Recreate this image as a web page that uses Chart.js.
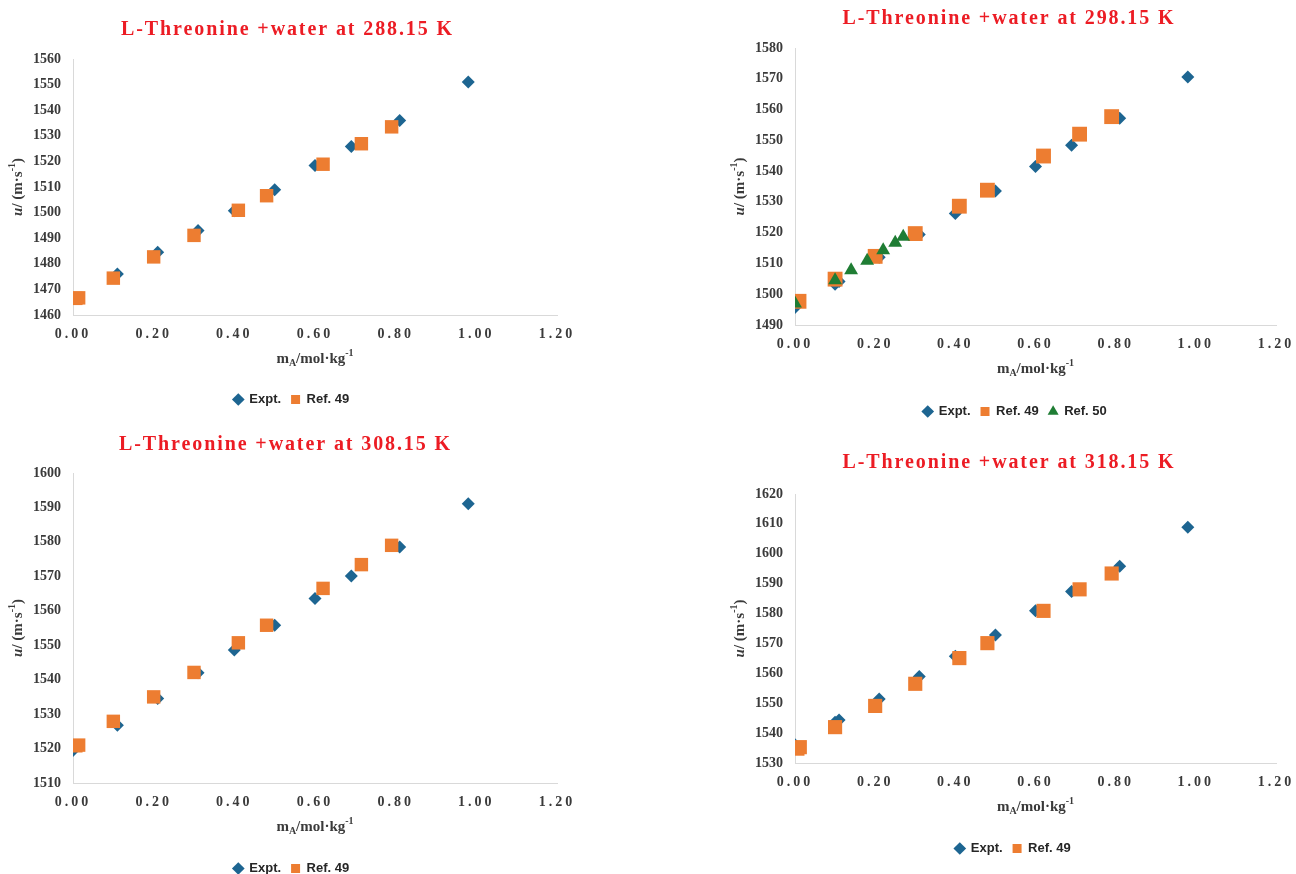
<!DOCTYPE html>
<html>
<head>
<meta charset="utf-8">
<script src="https://cdn.jsdelivr.net/npm/chart.js@4.4.1/dist/chart.umd.min.js"></script>
<style>
html, body { margin: 0; padding: 0; background: #fff; overflow: hidden; }
body { width: 1296px; height: 874px; position: relative; }
canvas { position: absolute; }
</style>
</head>
<body>
<canvas id="graficaUno" width="582" height="420" style="left:0px;top:0px"></canvas>
<canvas id="graficaDos" width="690" height="430" style="left:664px;top:0px"></canvas>
<canvas id="graficaTres" width="582" height="470" style="left:0px;top:420px"></canvas>
<canvas id="graficaCuatro" width="690" height="440" style="left:664px;top:430px"></canvas>
<script>
// titulos de cada grafica
const titulos = [
    'L-Threonine +water at 288.15 K',
    'L-Threonine +water at 298.15 K',
    'L-Threonine +water at 308.15 K',
    'L-Threonine +water at 318.15 K'
];
const leyendas = ['Expt.', 'Ref. 49', 'Ref. 50'];

// eje x comun (mol/kg)
const xTicks = [0.00, 0.20, 0.40, 0.60, 0.80, 1.00, 1.20];

// 288.15 K
const molExpt288 = [0.00, 0.11, 0.21, 0.31, 0.40, 0.50, 0.60, 0.69, 0.81, 0.98];
const uExpt288 = [1466.4, 1476.0, 1484.5, 1493.0, 1500.7, 1508.9, 1518.4, 1525.8, 1536.0, 1551.0];
const molRef49_288 = [0.007, 0.014, 0.10, 0.20, 0.30, 0.41, 0.48, 0.62, 0.715, 0.79];
const uRef49_288 = [1466.5, 1466.7, 1474.4, 1482.7, 1491.1, 1500.9, 1506.6, 1518.9, 1526.9, 1533.5];
const yRango288 = [1460, 1560];

// 298.15 K
const molExpt298 = [0.00, 0.10, 0.11, 0.21, 0.31, 0.40, 0.50, 0.60, 0.69, 0.81, 0.98];
const uExpt298 = [1495.7, 1503.2, 1504.1, 1512.0, 1519.4, 1526.2, 1533.5, 1541.5, 1548.4, 1557.2, 1570.6];
const molRef49_298 = [0.01, 0.10, 0.20, 0.30, 0.41, 0.48, 0.62, 0.71, 0.79];
const uRef49_298 = [1497.7, 1504.9, 1512.3, 1519.7, 1528.6, 1533.8, 1544.9, 1552.0, 1557.7];
const molRef50_298 = [0.00, 0.10, 0.14, 0.18, 0.22, 0.25, 0.27];
const uRef50_298 = [1497.0, 1504.5, 1507.8, 1510.9, 1514.3, 1516.7, 1518.7];
const yRango298 = [1490, 1580];

// 308.15 K
const molExpt308 = [0.00, 0.11, 0.21, 0.31, 0.40, 0.50, 0.60, 0.69, 0.81, 0.98];
const uExpt308 = [1519.4, 1526.8, 1534.5, 1542.0, 1548.6, 1555.8, 1563.6, 1570.1, 1578.5, 1591.1];
const molRef49_308 = [0.007, 0.014, 0.10, 0.20, 0.30, 0.41, 0.48, 0.62, 0.715, 0.79];
const uRef49_308 = [1520.8, 1521.0, 1527.9, 1535.0, 1542.1, 1550.7, 1555.8, 1566.5, 1573.4, 1579.0];
const yRango308 = [1510, 1600];

// 318.15 K
const molExpt318 = [0.00, 0.10, 0.11, 0.21, 0.31, 0.40, 0.50, 0.60, 0.69, 0.81, 0.98];
const uExpt318 = [1536.1, 1543.6, 1544.4, 1551.4, 1558.9, 1565.7, 1572.8, 1580.9, 1587.4, 1595.8, 1608.9];
const molRef49_318 = [0.006, 0.012, 0.10, 0.20, 0.30, 0.41, 0.48, 0.62, 0.71, 0.79];
const uRef49_318 = [1534.8, 1535.3, 1542.0, 1549.1, 1556.5, 1565.1, 1570.1, 1580.9, 1588.1, 1593.4];
const yRango318 = [1530, 1620];

const azul = '#1d6591';
const naranja = '#ed7d31';
const verde = '#1f7d34';
const serif = "'Liberation Serif', 'Times New Roman', serif";
const sans = "'Liberation Sans', Arial, sans-serif";

function puntos(xs, ys) {
    return xs.map((x, i) => ({ x: x, y: ys[i] }));
}

function serie(label, xs, ys, color, estilo, radio, orden) {
    return {
        label: label,
        data: puntos(xs, ys),
        pointStyle: estilo,
        pointRadius: radio,
        pointHoverRadius: radio,
        pointBackgroundColor: color,
        pointBorderColor: color,
        pointBorderWidth: 0,
        backgroundColor: color,
        borderColor: color,
        showLine: false,
        order: orden
    };
}

// texto con subindices / superindices
function textoRico(ctx, partes, cx, cy) {
    let total = 0;
    partes.forEach(p => { ctx.font = p.font; p.w = ctx.measureText(p.t).width; total += p.w; });
    let x = cx - total / 2;
    ctx.textAlign = 'left';
    ctx.textBaseline = 'middle';
    partes.forEach(p => { ctx.font = p.font; ctx.fillText(p.t, x, cy + (p.dy || 0)); x += p.w; });
}

const tituloX = [
    { t: 'm', font: 'bold 15px ' + serif },
    { t: 'A', font: 'bold 10px ' + serif, dy: 4 },
    { t: '/mol\u00b7kg', font: 'bold 15px ' + serif },
    { t: '-1', font: 'bold 10px ' + serif, dy: -6 }
];
const tituloY = [
    { t: 'u', font: 'italic bold 15px ' + serif },
    { t: '/ (m\u00b7s', font: 'bold 15px ' + serif },
    { t: '-1', font: 'bold 10px ' + serif, dy: -6 },
    { t: ')', font: 'bold 15px ' + serif }
];

const titulosEjes = {
    id: 'titulosEjes',
    afterDraw(chart) {
        const ctx = chart.ctx, a = chart.chartArea;
        ctx.save();
        ctx.fillStyle = '#3a3a3a';
        textoRico(ctx, tituloX, (a.left + a.right) / 2, a.bottom + 44);
        ctx.translate(a.left - 55, (a.top + a.bottom) / 2);
        ctx.rotate(-Math.PI / 2);
        textoRico(ctx, tituloY, 0, 0);
        ctx.restore();
    }
};

// espaciado de letras en titulo y etiquetas del eje x, y corrimiento del titulo y la leyenda
const espaciado = {
    id: 'espaciado',
    afterLayout(chart, args, opts) {
        chart.titleBlock.left += opts.titulo;
        chart.titleBlock.right += opts.titulo;
        chart.legend.left += opts.leyenda;
        chart.legend.right += opts.leyenda;
    },
    beforeDraw(chart) {
        if (chart.$espaciado) return;
        chart.$espaciado = true;
        const ctx = chart.ctx;
        const envolver = (obj, metodo, valor) => {
            const original = obj[metodo].bind(obj);
            obj[metodo] = function (...args) {
                ctx.save();
                ctx.letterSpacing = valor;
                original(...args);
                ctx.restore();
            };
        };
        envolver(chart.titleBlock, 'draw', '1.9px');
        envolver(chart.scales.x, 'drawLabels', '3px');
    }
};

function functionChart(grafica, titulo, datasets, yRango, caja) {
    return new Chart(grafica, {
        type: 'scatter',
        data: { datasets: datasets },
        plugins: [titulosEjes, espaciado],
        options: {
            responsive: false,
            animation: false,
            layout: { padding: caja.padding },
            plugins: {
                tooltip: { enabled: false },
                espaciado: { titulo: caja.dxTitulo, leyenda: caja.dxLeyenda },
                title: {
                    display: true,
                    text: titulo,
                    color: '#ec1c24',
                    font: { family: serif, size: 20, weight: 'bold' },
                    padding: caja.titulo
                },
                legend: {
                    position: 'bottom',
                    labels: {
                        usePointStyle: true,
                        boxWidth: 9,
                        boxHeight: 9,
                        padding: 10,
                        color: '#262626',
                        font: { family: sans, size: 13, weight: 'bold' },
                        sort: (a, b) => a.datasetIndex - b.datasetIndex
                    }
                }
            },
            scales: {
                x: {
                    type: 'linear',
                    min: xTicks[0],
                    max: xTicks[xTicks.length - 1],
                    afterBuildTicks: (s) => { s.ticks = xTicks.map(v => ({ value: v })); },
                    afterFit: (s) => { s.height = caja.xAlto; },
                    grid: { display: false, drawTicks: false },
                    border: { display: true, color: '#d9d9d9', width: 1 },
                    ticks: {
                        padding: 11,
                        color: '#3a3a3a',
                        font: { family: serif, size: 14, weight: 'bold' },
                        callback: (v) => Number(v).toFixed(2)
                    }
                },
                y: {
                    min: yRango[0],
                    max: yRango[1],
                    afterFit: (s) => { s.width = 73; },
                    grid: { display: false, drawTicks: false },
                    border: { display: true, color: '#d9d9d9', width: 1 },
                    ticks: {
                        stepSize: 10,
                        padding: 12,
                        color: '#3a3a3a',
                        font: { family: serif, size: 14, weight: 'bold' },
                        callback: (v) => String(v)
                    }
                }
            }
        }
    });
}

functionChart(document.getElementById('graficaUno'), titulos[0], [
    serie(leyendas[0], molExpt288, uExpt288, azul, 'rectRot', 6.5, 3),
    serie(leyendas[1], molRef49_288, uRef49_288, naranja, 'rect', 9.5, 2)
], yRango288, { padding: { left: 0, right: 25, top: 0, bottom: 4 }, titulo: { top: 18, bottom: 17 }, xAlto: 68, dxTitulo: 9, dxLeyenda: 13 });

functionChart(document.getElementById('graficaDos'), titulos[1], [
    serie(leyendas[0], molExpt298, uExpt298, azul, 'rectRot', 6.5, 3),
    serie(leyendas[1], molRef49_298, uRef49_298, naranja, 'rect', 10.5, 2),
    serie(leyendas[2], molRef50_298, uRef50_298, verde, 'triangle', 8, 1)
], yRango298, { padding: { left: 58, right: 78, top: 0, bottom: 2 }, titulo: { top: 7, bottom: 17 }, xAlto: 70, dxTitulo: 10, dxLeyenda: 16 });

functionChart(document.getElementById('graficaTres'), titulos[2], [
    serie(leyendas[0], molExpt308, uExpt308, azul, 'rectRot', 6.5, 3),
    serie(leyendas[1], molRef49_308, uRef49_308, naranja, 'rect', 9.5, 2)
], yRango308, { padding: { left: 0, right: 25, top: 0, bottom: 5 }, titulo: { top: 13, bottom: 16 }, xAlto: 69, dxTitulo: 7, dxLeyenda: 13 });

functionChart(document.getElementById('graficaCuatro'), titulos[3], [
    serie(leyendas[0], molExpt318, uExpt318, azul, 'rectRot', 6.5, 3),
    serie(leyendas[1], molRef49_318, uRef49_318, naranja, 'rect', 10, 2)
], yRango318, { padding: { left: 58, right: 78, top: 0, bottom: 5 }, titulo: { top: 21, bottom: 19 }, xAlto: 69, dxTitulo: 10, dxLeyenda: 14 });
</script>
</body>
</html>
